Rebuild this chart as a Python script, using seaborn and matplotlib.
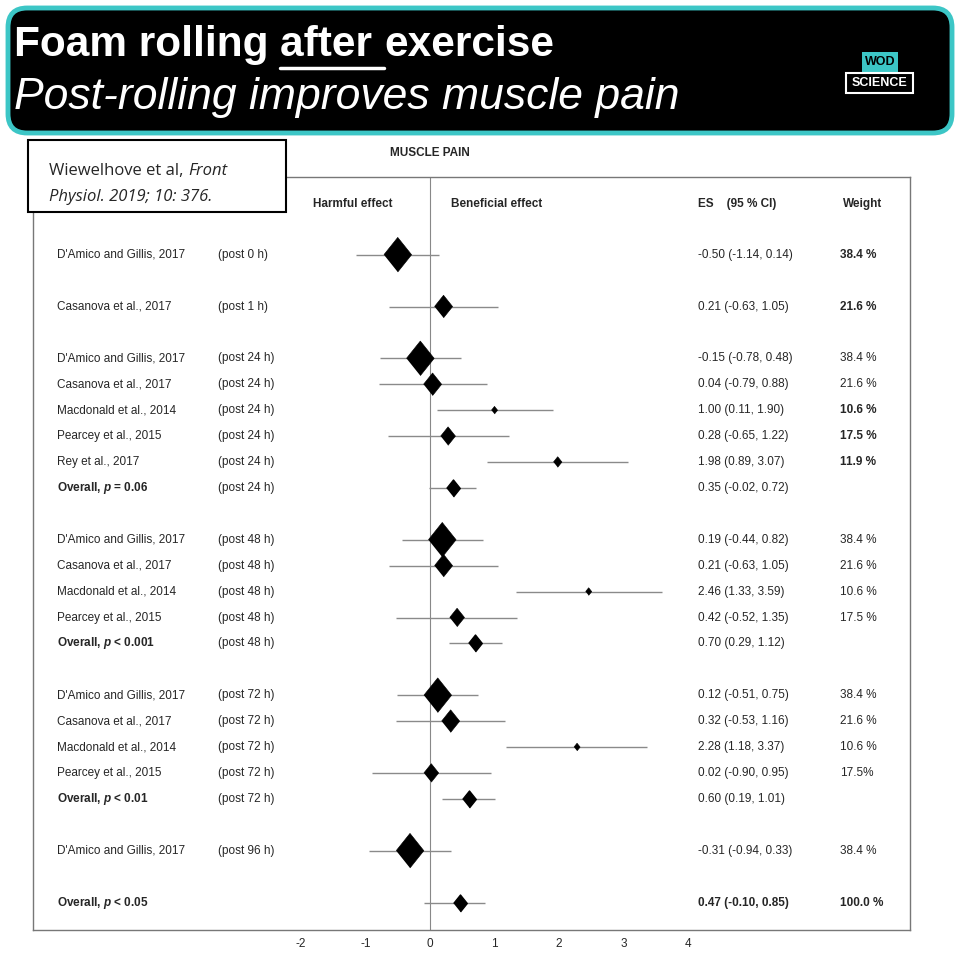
import matplotlib
matplotlib.use('Agg')
import matplotlib.pyplot as plt
from matplotlib.patches import FancyBboxPatch, Rectangle
import pandas as pd
import seaborn as sns

sns.set_style("white")
plt.rcParams['font.family'] = ['Liberation Sans', 'DejaVu Sans']
plt.rcParams['mathtext.fontset'] = 'custom'
plt.rcParams['mathtext.it'] = 'Liberation Sans:italic:bold'
plt.rcParams['mathtext.rm'] = 'Liberation Sans:bold'

# ---------------- data ----------------
studies = ["D'Amico and Gillis, 2017", "Casanova et al., 2017",
           "D'Amico and Gillis, 2017", "Casanova et al., 2017", "Macdonald et al., 2014",
           "Pearcey et al., 2015", "Rey et al., 2017", "Overall, $p$ = 0.06",
           "D'Amico and Gillis, 2017", "Casanova et al., 2017", "Macdonald et al., 2014",
           "Pearcey et al., 2015", "Overall, $p$ < 0.001",
           "D'Amico and Gillis, 2017", "Casanova et al., 2017", "Macdonald et al., 2014",
           "Pearcey et al., 2015", "Overall, $p$ < 0.01",
           "D'Amico and Gillis, 2017", "Overall, $p$ < 0.05"]
times = ["(post 0 h)", "(post 1 h)"] + ["(post 24 h)"] * 6 + ["(post 48 h)"] * 5 + \
        ["(post 72 h)"] * 5 + ["(post 96 h)", ""]
es = [-0.50, 0.21, -0.15, 0.04, 1.00, 0.28, 1.98, 0.35, 0.19, 0.21, 2.46, 0.42, 0.70,
      0.12, 0.32, 2.28, 0.02, 0.60, -0.31, 0.47]
ci_lo = [-1.14, -0.63, -0.78, -0.79, 0.11, -0.65, 0.89, -0.02, -0.44, -0.63, 1.33, -0.52, 0.29,
         -0.51, -0.53, 1.18, -0.90, 0.19, -0.94, -0.10]
ci_hi = [0.14, 1.05, 0.48, 0.88, 1.90, 1.22, 3.07, 0.72, 0.82, 1.05, 3.59, 1.35, 1.12,
         0.75, 1.16, 3.37, 0.95, 1.01, 0.33, 0.85]
weights = [38.4, 21.6, 38.4, 21.6, 10.6, 17.5, 11.9, None, 38.4, 21.6, 10.6, 17.5, None,
           38.4, 21.6, 10.6, 17.5, None, 38.4, 100.0]
weight_labels = ["38.4 %", "21.6 %", "38.4 %", "21.6 %", "10.6 %", "17.5 %", "11.9 %", "",
                 "38.4 %", "21.6 %", "10.6 %", "17.5 %", "",
                 "38.4 %", "21.6 %", "10.6 %", "17.5%", "", "38.4 %", "100.0 %"]
bold_weight = [True, True, False, False, True, True, True, False, False, False, False, False, False,
               False, False, False, False, False, False, True]
rows = [0, 2, 4, 5, 6, 7, 8, 9, 11, 12, 13, 14, 15, 17, 18, 19, 20, 21, 23, 25]
xticks = [-2, -1, 0, 1, 2, 3, 4]

df = pd.DataFrame({"study": studies, "time": times, "es": es, "lo": ci_lo, "hi": ci_hi,
                   "w": weights, "row": rows})
df["overall"] = df["study"].str.startswith("Overall")

# ---------------- figure ----------------
fig = plt.figure(figsize=(9.6, 9.6), dpi=100)
fig.patch.set_facecolor('white')
renderer = fig.canvas.get_renderer()

def fx(p):
    return p / 960

def fy(p):
    return 1 - p / 960

def right_px(t):
    # right edge of a text in figure pixels
    return t.get_window_extent(renderer).x1

# header banner
fig.patches.append(FancyBboxPatch((fx(8), fy(133)), fx(944), 125 / 960,
                                  boxstyle="round,pad=0,rounding_size=0.02",
                                  transform=fig.transFigure, facecolor='black',
                                  edgecolor='#3cc6c6', linewidth=3.5))
t1 = fig.text(fx(14), fy(45), "Foam rolling ", color='white', fontsize=30.5, fontweight='bold',
              va='center', ha='left')
xa = right_px(t1)
t2 = fig.text(xa / 960, fy(45), "after ", color='white', fontsize=30.5, fontweight='bold',
              va='center', ha='left')
xb = right_px(t2)
fig.text(xb / 960, fy(45), "exercise", color='white', fontsize=30.5, fontweight='bold',
         va='center', ha='left')
fig.lines.append(plt.Line2D([xa / 960, xb / 960], [fy(68), fy(68)], color='white', lw=2.5,
                            transform=fig.transFigure))
fig.text(fx(14), fy(97), "Post-rolling improves muscle pain", color='white', fontsize=32,
         style='italic', va='center', ha='left')
# logo
fig.patches.append(Rectangle((fx(862), fy(72)), fx(36), 20 / 960, transform=fig.transFigure,
                             facecolor='#3cc6c6', edgecolor='none'))
fig.text(fx(880), fy(62), "WOD", color='black', fontsize=9, fontweight='bold',
         ha='center', va='center')
fig.patches.append(Rectangle((fx(846), fy(93)), fx(67), 20 / 960, transform=fig.transFigure,
                             facecolor='black', edgecolor='white', lw=1.5))
fig.text(fx(879.5), fy(83), "SCIENCE", color='white', fontsize=9, fontweight='bold',
         ha='center', va='center')

# forest plot axes
ax = fig.add_axes([fx(33), fx(30), fx(877), 753 / 960])
ax.set_xlim(-6.155, 7.442)
ax.set_ylim(26.06, -3.0)
ax.axvline(0, color='#888888', lw=0.8, zorder=1)

ax.hlines(df["row"], df["lo"], df["hi"], color='#8a8a8a', lw=1, zorder=2)

studies_df = df[~df["overall"]]
diamond = [(-0.8, 0), (0, 1), (0.8, 0), (0, -1)]
sns.scatterplot(data=studies_df, x="es", y="row", size="w", sizes=(30, 620),
                size_norm=(10.6, 38.4), marker=diamond, color='black', edgecolor='black',
                legend=False, ax=ax, zorder=3)
sns.scatterplot(data=df[df["overall"]], x="es", y="row", s=150, marker=diamond,
                color='black', edgecolor='black', legend=False, ax=ax, zorder=3)

x_study, x_time, x_es, x_w = -5.78, -3.29, 4.155, 6.36
for i, r in df.iterrows():
    fw = 'bold' if r["overall"] else 'normal'
    ax.text(x_study, r["row"], r["study"], fontsize=8.5, fontweight=fw, va='center')
    ax.text(x_time, r["row"], r["time"], fontsize=8.5, va='center')
    ax.text(x_es, r["row"], f"{r['es']:.2f} ({r['lo']:.2f}, {r['hi']:.2f})",
            fontsize=8.5, va='center', fontweight='bold' if i == len(df) - 1 else 'normal')
    ax.text(x_w, r["row"], weight_labels[i], fontsize=8.5, va='center',
            fontweight='bold' if bold_weight[i] else 'normal')

y_head = -1.96
ax.text(-1.82, y_head, "Harmful effect", fontsize=8.5, fontweight='bold', va='center')
ax.text(0.33, y_head, "Beneficial effect", fontsize=8.5, fontweight='bold', va='center')
ax.text(x_es, y_head, "ES    (95 % CI)", fontsize=8.5, fontweight='bold', va='center')
ax.text(6.4, y_head, "Weight", fontsize=8.5, fontweight='bold', va='center')

ax.set_xticks(xticks)
ax.set_xticklabels([str(t) for t in xticks], fontsize=8.5)
ax.tick_params(axis='x', length=0, pad=6)
ax.set_yticks([])
ax.set_xlabel("")
ax.set_ylabel("")
for s in ax.spines.values():
    s.set_color('#777777')
    s.set_linewidth(1)

fig.text(fx(430), fy(153), "MUSCLE PAIN", fontsize=8.5, fontweight='bold', ha='center',
         va='center')

# citation box
fig.patches.append(Rectangle((fx(28), fy(212)), fx(258), 72 / 960, transform=fig.transFigure,
                             facecolor='white', edgecolor='black', lw=1.5, zorder=5))
c1 = fig.text(fx(49), fy(171), "Wiewelhove et al,", fontsize=12, family='Open Sans',
              va='center', zorder=6)
fig.text((right_px(c1) + 5) / 960, fy(171), "Front", fontsize=12, family='Open Sans',
         style='italic', va='center', zorder=6)
fig.text(fx(49), fy(197), "Physiol. 2019; 10: 376.", fontsize=12, family='Open Sans',
         style='italic', va='center', zorder=6)

fig.savefig("out.png", dpi=100)
